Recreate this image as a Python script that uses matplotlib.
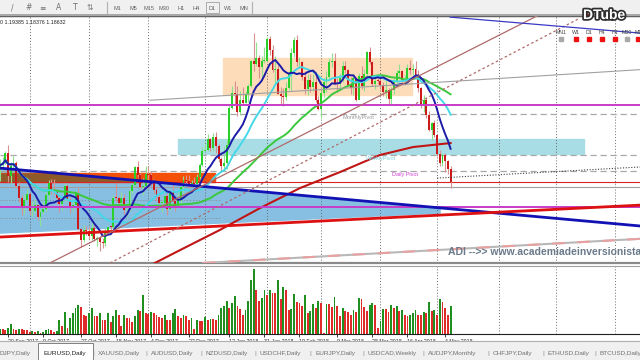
import matplotlib.pyplot as plt
import matplotlib.patheffects as pe
from matplotlib.lines import Line2D
from matplotlib.patches import Rectangle, Polygon
import numpy as np
import pandas as pd

plt.rcParams['font.family'] = ['Liberation Sans', 'DejaVu Sans']

# EURUSD daily candles, 15 Sep 2017 - 8 May 2018
dates = pd.bdate_range('2017-09-15', '2018-05-08')
first_open = 1.1920
closes = [1.1942, 1.1951, 1.1998, 1.1894, 1.1939, 1.1951, 1.1848, 1.1793, 1.1747, 1.1785,
          1.1813, 1.1733, 1.1734, 1.1761, 1.1706, 1.1731, 1.1743, 1.1808, 1.1861, 1.1825,
          1.1821, 1.1795, 1.1764, 1.1788, 1.1849, 1.1785, 1.1758, 1.1761, 1.1815, 1.1653,
          1.1605, 1.1648, 1.1645, 1.1620, 1.1656, 1.1607, 1.1611, 1.1595, 1.1592, 1.1643,
          1.1664, 1.1663, 1.1795, 1.1793, 1.1770, 1.1793, 1.1737, 1.1738, 1.1824, 1.1851,
          1.1933, 1.1899, 1.1844, 1.1846, 1.1903, 1.1895, 1.1863, 1.1827, 1.1796, 1.1772,
          1.1772, 1.1802, 1.1743, 1.1825, 1.1778, 1.1752, 1.1784, 1.1843, 1.1873, 1.1872,
          1.1856, 1.1863, 1.1858, 1.1889, 1.1944, 1.2005, 1.2010, 1.2059, 1.2017, 1.2067,
          1.2029, 1.1967, 1.1937, 1.1950, 1.2033, 1.2200, 1.2265, 1.2263, 1.2180, 1.2237,
          1.2222, 1.2260, 1.2298, 1.2409, 1.2396, 1.2426, 1.2383, 1.2411, 1.2413, 1.2512,
          1.2460, 1.2370, 1.2377, 1.2264, 1.2253, 1.2250, 1.2290, 1.2352, 1.2449, 1.2507,
          1.2406, 1.2406, 1.2337, 1.2285, 1.2327, 1.2295, 1.2316, 1.2235, 1.2193, 1.2266,
          1.2317, 1.2337, 1.2408, 1.2410, 1.2313, 1.2307, 1.2336, 1.2389, 1.2370, 1.2305,
          1.2289, 1.2336, 1.2237, 1.2344, 1.2300, 1.2351, 1.2450, 1.2405, 1.2307, 1.2323,
          1.2322, 1.2303, 1.2269, 1.2278, 1.2239, 1.2281, 1.2320, 1.2357, 1.2367, 1.2326,
          1.2330, 1.2380, 1.2372, 1.2376, 1.2344, 1.2288, 1.2211, 1.2234, 1.2166, 1.2101,
          1.2130, 1.2078, 1.1990, 1.1951, 1.1989, 1.1960, 1.1923, 1.18632]
highs = [1.1970, 1.1976, 1.2004, 1.2034, 1.1955, 1.1982, 1.1960, 1.1866, 1.1808, 1.1811,
         1.1832, 1.1814, 1.1779, 1.1790, 1.1768, 1.1742, 1.1781, 1.1822, 1.1876, 1.1880,
         1.1878, 1.1832, 1.1805, 1.1803, 1.1861, 1.1858, 1.1797, 1.1786, 1.1826, 1.1838,
         1.1660, 1.1670, 1.1668, 1.1669, 1.1688, 1.1679, 1.1620, 1.1620, 1.1613, 1.1659,
         1.1669, 1.1672, 1.1805, 1.1861, 1.1802, 1.1821, 1.1810, 1.1770, 1.1833, 1.1860,
         1.1937, 1.1960, 1.1908, 1.1884, 1.1939, 1.1939, 1.1915, 1.1880, 1.1845, 1.1810,
         1.1786, 1.1808, 1.1815, 1.1829, 1.1862, 1.1799, 1.1818, 1.1849, 1.1891, 1.1897,
         1.1898, 1.1875, 1.1886, 1.1901, 1.1953, 1.2023, 1.2036, 1.2081, 1.2065, 1.2088,
         1.2090, 1.2037, 1.1977, 1.2022, 1.2059, 1.2219, 1.2297, 1.2323, 1.2297, 1.2276,
         1.2296, 1.2274, 1.2308, 1.2415, 1.2537, 1.2495, 1.2436, 1.2432, 1.2474, 1.2521,
         1.2523, 1.2485, 1.2435, 1.2394, 1.2294, 1.2289, 1.2315, 1.2366, 1.2470, 1.2519,
         1.2530, 1.2431, 1.2412, 1.2366, 1.2352, 1.2353, 1.2354, 1.2346, 1.2251, 1.2274,
         1.2336, 1.2365, 1.2425, 1.2446, 1.2447, 1.2335, 1.2356, 1.2410, 1.2413, 1.2373,
         1.2337, 1.2352, 1.2340, 1.2356, 1.2388, 1.2376, 1.2455, 1.2476, 1.2411, 1.2338,
         1.2336, 1.2336, 1.2318, 1.2320, 1.2289, 1.2292, 1.2333, 1.2372, 1.2396, 1.2372,
         1.2348, 1.2396, 1.2414, 1.2398, 1.2413, 1.2370, 1.2292, 1.2256, 1.2245, 1.2187,
         1.2138, 1.2145, 1.2081, 1.2010, 1.1997, 1.1996, 1.1963, 1.19385]
lows = [1.1868, 1.1920, 1.1946, 1.1864, 1.1860, 1.1910, 1.1838, 1.1777, 1.1717, 1.1722,
        1.1774, 1.1716, 1.1711, 1.1724, 1.1692, 1.1669, 1.1722, 1.1735, 1.1790, 1.1812,
        1.1807, 1.1768, 1.1730, 1.1741, 1.1780, 1.1779, 1.1727, 1.1733, 1.1750, 1.1647,
        1.1573, 1.1596, 1.1627, 1.1606, 1.1603, 1.1600, 1.1575, 1.1554, 1.1566, 1.1576,
        1.1627, 1.1637, 1.1646, 1.1775, 1.1761, 1.1767, 1.1722, 1.1714, 1.1735, 1.1815,
        1.1848, 1.1890, 1.1832, 1.1808, 1.1838, 1.1837, 1.1847, 1.1815, 1.1780, 1.1765,
        1.1729, 1.1757, 1.1717, 1.1738, 1.1773, 1.1733, 1.1753, 1.1768, 1.1816, 1.1850,
        1.1838, 1.1848, 1.1846, 1.1851, 1.1881, 1.1939, 1.1999, 1.2004, 1.2004, 1.2007,
        1.1996, 1.1954, 1.1916, 1.1915, 1.1926, 1.2030, 1.2196, 1.2212, 1.2165, 1.2169,
        1.2213, 1.2221, 1.2228, 1.2293, 1.2366, 1.2388, 1.2335, 1.2337, 1.2400, 1.2410,
        1.2437, 1.2360, 1.2307, 1.2261, 1.2219, 1.2206, 1.2233, 1.2286, 1.2275, 1.2430,
        1.2390, 1.2384, 1.2326, 1.2260, 1.2259, 1.2271, 1.2277, 1.2228, 1.2191, 1.2155,
        1.2250, 1.2272, 1.2324, 1.2386, 1.2301, 1.2272, 1.2288, 1.2318, 1.2355, 1.2299,
        1.2260, 1.2258, 1.2230, 1.2240, 1.2285, 1.2274, 1.2333, 1.2397, 1.2300, 1.2285,
        1.2308, 1.2283, 1.2254, 1.2245, 1.2214, 1.2216, 1.2261, 1.2303, 1.2338, 1.2310,
        1.2302, 1.2310, 1.2353, 1.2350, 1.2334, 1.2270, 1.2201, 1.2182, 1.2155, 1.2096,
        1.2054, 1.2069, 1.1984, 1.1939, 1.1938, 1.1911, 1.1902, 1.18376]
# tick volume (thousands)
volumes = [5, 5, 4, 6, 10, 5, 4, 5, 5, 4, 4, 2, 3, 2, 3, 1, 2, 4, 5, 4, 2, 3,
           14, 8, 22, 6, 16, 21, 26, 29, 27, 19, 18, 21, 26, 18, 18, 21, 14, 14, 21,
           12, 18, 24, 19, 8, 19, 16, 16, 12, 18, 24, 23, 38, 21, 20, 22,
           21, 19, 17, 16, 19, 14, 14, 21, 25, 18, 16, 19, 18, 14, 16, 5, 14, 13, 13,
           17, 14, 15, 15, 14, 19, 26, 28, 33, 26, 31, 37, 28, 25, 19, 24, 33, 53, 64, 43,
           33, 35, 43, 38, 43, 40, 40, 53, 34, 46, 43, 24, 25, 39, 32, 31,
           28, 38, 21, 23, 30, 26, 33, 31, 1, 30, 30, 27, 36, 28, 18, 26, 23, 22, 19,
           24, 22, 35, 34, 27, 23, 29, 31, 29, 6, 13, 25, 25, 22, 29, 26, 28, 23, 24, 19,
           18, 19, 21, 24, 19, 19, 22, 21, 32, 23, 24, 19, 34, 32, 26, 19, 28]

date_labels = ['20 Sep 2017', '9 Oct 2017', '27 Oct 2017', '15 Nov 2017', '4 Dec 2017',
               '22 Dec 2017', '12 Jan 2018', '31 Jan 2018', '19 Feb 2018', '9 Mar 2018',
               '28 Mar 2018', '16 Apr 2018', '4 May 2018']
label_dates = ['2017-09-20', '2017-10-09', '2017-10-27', '2017-11-15', '2017-12-04',
               '2017-12-22', '2018-01-12', '2018-01-31', '2018-02-19', '2018-03-09',
               '2018-03-28', '2018-04-16', '2018-05-04']

# objects on the chart, in (bar index, price)
peach_box = (82.7, 152.7, 1.2257, 1.2424)
cyan_box = (66.0, 216.5, 1.1991, 1.2059)
orange_box = (0.0, 79.7, 1.1865, 1.1906)
blue_zone_x = [0, 163.1, 163.1, 0]
blue_zone_y = [1.1928, 1.1748, 1.1725, 1.1635]
blue_trend_x, blue_trend_y = [0, 237.2], [1.1928, 1.1667]
red_trend_x, red_trend_y = [0, 237.2], [1.1617, 1.1761]
grey_trend_x, grey_trend_y = [55.6, 237.2], [1.2234, 1.2372]
brown_trend_x, brown_trend_y = [18.5, 199.0], [1.1500, 1.2614]
brown_dot_x, brown_dot_y = [40.8, 215.0], [1.1500, 1.2605]
pink_trend_x, pink_trend_y = [75.2, 237.2], [1.1500, 1.1609]
black_dot_x, black_dot_y = [162.0, 237.2], [1.1883, 1.1933]
top_blue_x, top_blue_y = [166.8, 237.2], [1.2609, 1.2537]
magenta_levels = [1.2212, 1.1752]
pivot_names = ['MonthlyPivot', 'WeeklyPivot', 'Daily Pivot']
pivot_levels = [1.2172, 1.1987, 1.1915]
pivot_label_x = [127.1, 135.7, 145.3]
pivot_colors = ['#9a9a9a', '#7fd4e0', '#d040d0']
support_red = 1.1865
support_grey = 1.1843
short_levels = [1.1784, 1.1703]
ma200_x = [50.0, 57.4, 66.7, 81.5, 96.4, 111.2, 126.0, 140.8, 153.1, 167.0]
ma200_y = [1.1454, 1.1500, 1.1558, 1.1649, 1.1748, 1.1838, 1.1910, 1.1987, 1.2023, 1.2041]

tabs = ['DJPY,Daily', 'EURUSD,Daily', 'XAUUSD,Daily', 'AUDUSD,Daily', 'NZDUSD,Daily',
        'USDCHF,Daily', 'EURJPY,Daily', 'USDCAD,Weekly', 'AUDJPY,Monthly', 'CHFJPY,Daily',
        'ETHUSD,Daily', 'BTCUSD,Daily']
tab_px = [0, 44, 98, 151, 206, 260, 315, 368, 428, 493, 548, 600]
tf_buttons = ['M1', 'M5', 'M15', 'M30', 'H1', 'H4', 'D1', 'W1', 'MN']
tf_px = [117, 133, 149, 164, 181, 196, 212, 228, 244]


def fx(px):
    return px / 640


def fy(py):
    return 1 - py / 360


fig = plt.figure(figsize=(6.4, 3.6), dpi=100, facecolor='white')
ax = fig.add_axes([0, fy(263), 1, (263 - 16) / 360])
vax = fig.add_axes([0, fy(334), 1, (334 - 266) / 360], sharex=ax)

x = np.arange(len(closes))
c = np.array(closes)
o = np.array([first_open] + closes[:-1])
h = np.array(highs)
l = np.array(lows)
up = c >= o

ax.set_xlim(0, 237.2)
ax.set_ylim(1.1500, 1.2614)

# month grid
ext = pd.bdate_range('2017-09-15', '2018-08-31')
month_starts = [i for i in range(1, len(ext)) if ext[i].month != ext[i - 1].month]
for m in month_starts:
    ax.axvline(m, color='#6a6a6a', ls=(0, (1, 2)), lw=0.7, zorder=1.5)
    vax.axvline(m, color='#6a6a6a', ls=(0, (1, 2)), lw=0.7, zorder=0.5)

# rectangles / zones
ax.add_patch(Rectangle((peach_box[0], peach_box[2]), peach_box[1] - peach_box[0],
                       peach_box[3] - peach_box[2], color='#fddcb9', zorder=1))
ax.add_patch(Rectangle((cyan_box[0], cyan_box[2]), cyan_box[1] - cyan_box[0],
                       cyan_box[3] - cyan_box[2], color='#a9dde6', zorder=1))
ax.add_patch(Polygon(list(zip(blue_zone_x, blue_zone_y)), color='#86bfe2', zorder=1.1))
ax.add_patch(Rectangle((orange_box[0], orange_box[2]), orange_box[1] - orange_box[0],
                       orange_box[3] - orange_box[2], color='#f4500a', zorder=1.2))
xs = np.linspace(orange_box[0], orange_box[1], 200)
trend_at = np.interp(xs, blue_trend_x, blue_trend_y)
top = np.clip(trend_at, orange_box[2], orange_box[3])
ax.fill_between(xs, orange_box[2], top, color='#8e5a2a', lw=0, zorder=1.3)

for lv in short_levels:
    ax.plot([0, 82], [lv, lv], color='#8a8a8a', ls=(0, (1, 2)), lw=0.7, zorder=1.5)

# candles
ax.vlines(x[up], l[up], h[up], color='#8fe08f', lw=0.8, zorder=3)
ax.vlines(x[~up], l[~up], h[~up], color='#d89090', lw=0.8, zorder=3)
body = np.maximum(np.abs(c - o), 0.00025)
ax.bar(x[up], body[up], bottom=np.minimum(o, c)[up], width=0.72, color='#2ad02a', zorder=3.5)
ax.bar(x[~up], body[~up], bottom=np.minimum(o, c)[~up], width=0.72, color='#cc1a1a', zorder=3.5)

# moving averages
s = pd.Series(closes)
ax.plot(x, s.rolling(50, min_periods=1).mean(), color='#3cc83c', lw=1.4, zorder=4)
ax.plot(x, s.rolling(20, min_periods=1).mean(), color='#45d8e8', lw=1.4, zorder=4.1)
ax.plot(x, s.rolling(10, min_periods=1).mean(), color='#1c1ca8', lw=1.4, zorder=4.2)
ax.plot(ma200_x, ma200_y, color='#c01515', lw=1.5, zorder=4)

# horizontal levels
for lv in magenta_levels:
    ax.axhline(lv, color='#c83cc8', lw=1.4, zorder=4.5)
for lv in pivot_levels:
    ax.axhline(lv, color='#a8a8a8', ls=(0, (5, 3)), lw=0.9, zorder=2)
ax.axhline(support_red, color='#dd2222', lw=0.8, zorder=2.5)
ax.axhline(support_grey, color='#a0a0a0', lw=0.8, zorder=2.5)

# trend lines
ax.plot(blue_trend_x, blue_trend_y, color='#1212b4', lw=2, zorder=5)
ax.plot(red_trend_x, red_trend_y, color='#dd1111', lw=2, zorder=5)
ax.plot(grey_trend_x, grey_trend_y, color='#a0a0a0', lw=0.8, zorder=5)
ax.plot(brown_trend_x, brown_trend_y, color='#b06a6a', lw=0.9, zorder=5)
ax.plot(brown_dot_x, brown_dot_y, color='#b06a6a', ls=(0, (2, 2)), lw=0.9, zorder=5)
ax.plot(pink_trend_x, pink_trend_y, color='#b8b8b8', lw=1.5, zorder=5)
ax.plot(pink_trend_x, pink_trend_y, color='#e8a0a0', ls=(0, (6, 6)), lw=1.5, zorder=5.1)
ax.plot(black_dot_x, black_dot_y, color='#404040', ls=(0, (1, 1.5)), lw=0.8, zorder=5)
ax.plot(top_blue_x, top_blue_y, color='#3a3ac4', lw=0.9, zorder=5)

for name, lv, px_, col in zip(pivot_names, pivot_levels, pivot_label_x, pivot_colors):
    ax.text(px_, lv - 0.0004, name, color=col, fontsize=4, va='top', ha='left', zorder=6)
ax.text(166.0, 1.1549, 'ADI -->> www.academiadeinversionista.com', color='#6a7a8a',
        fontsize=7.5, fontweight='bold', va='center', ha='left', zorder=6)

ax.tick_params(left=False, bottom=False, labelleft=False, labelbottom=False)
for side in ['left', 'right']:
    ax.spines[side].set_visible(False)
ax.spines['top'].set_color('#404040')
ax.spines['top'].set_linewidth(1.0)
ax.spines['bottom'].set_color('#8a8a8a')
ax.spines['bottom'].set_linewidth(1.6)

# volumes
vol = np.array(volumes)
vol_col = ['#1f8f1f'] + ['#1f8f1f' if vol[i] > vol[i - 1] else '#e02b2b' for i in range(1, len(vol))]
vax.bar(x, vol, width=0.68, color=vol_col, zorder=2)
vax.set_ylim(0, 67)
for side in ['left', 'right']:
    vax.spines[side].set_visible(False)
vax.spines['top'].set_color('#a0a0a0')
vax.spines['bottom'].set_color('#202020')
vax.spines['bottom'].set_linewidth(0.8)
vax.tick_params(left=False, labelleft=False)
label_pos = [dates.get_loc(pd.Timestamp(d)) for d in label_dates]
vax.set_xticks(label_pos)
vax.set_xticklabels(date_labels, fontsize=3.8, ha='left')
vax.tick_params(axis='x', direction='out', length=2.5, width=0.6, pad=1, colors='#202020')

# toolbar
fig.patches.append(Rectangle((0, fy(15)), 1, 15 / 360, transform=fig.transFigure,
                             color='#f0f0f0', zorder=0))
fig.add_artist(Line2D([0, 1], [fy(15), fy(15)], color='#9a9a9a', lw=1.2))
for sym, px_ in zip(['/', '#', '\u2261', 'A', 'T', '\u21c5'], [12, 29, 42, 59, 75, 90]):
    fig.text(fx(px_), fy(8), sym, fontsize=5.5, color='#707070', ha='center', va='center',
             family='DejaVu Sans')
fig.add_artist(Line2D([fx(107), fx(107)], [fy(2), fy(13)], color='#b0b0b0', lw=0.8))
for name, px_ in zip(tf_buttons, tf_px):
    fig.text(fx(px_), fy(8), name, fontsize=4, color='#606060', ha='center', va='center')
fig.patches.append(Rectangle((fx(206), fy(13)), fx(13), 11 / 360, transform=fig.transFigure,
                             fill=False, ec='#a0a0a0', lw=0.6))
fig.add_artist(Line2D([fx(252), fx(252)], [fy(2), fy(13)], color='#b0b0b0', lw=0.8))

fig.text(0, fy(22), '0 1.19385 1.18376 1.18632', fontsize=3.8, color='#202020',
         ha='left', va='center')

# DTube watermark
fig.text(fx(583), fy(15), 'DTube', fontsize=10, fontweight='bold', color='white',
         ha='left', va='center',
         path_effects=[pe.withStroke(linewidth=2.5, foreground='#303030')])
fig.add_artist(Line2D([fx(587)], [fy(15)], marker='>', color='#e01010', markersize=3.5,
                      lw=0))

# timeframe signal panel
sig_names = ['MN1', 'W1', 'D1', 'H4', 'H1', 'M30', 'M1']
sig_px = [561, 576, 589, 602, 615, 627, 638]
sig_cols = ['#a8a8a8', '#ee1111', '#ee1111', '#ee1111', '#ee1111', '#a8a8a8', '#ee1111']
for name, px_, col in zip(sig_names, sig_px, sig_cols):
    fig.text(fx(px_), fy(32), name, fontsize=3.8, color='#404040', ha='center', va='center')
    fig.add_artist(Line2D([fx(px_)], [fy(39)], marker='s', color=col, markersize=2.8, lw=0))

# symbol tabs
fig.patches.append(Rectangle((0, 0), 1, fy(341), transform=fig.transFigure,
                             color='#f0f0f0', zorder=0))
fig.add_artist(Line2D([0, 1], [fy(341), fy(341)], color='#b0b0b0', lw=0.8))
fig.patches.append(Rectangle((fx(38), 0), fx(55), fy(343), transform=fig.transFigure,
                             fc='white', ec='#808080', lw=0.7, zorder=1))
for i, (name, px_) in enumerate(zip(tabs, tab_px)):
    fig.text(fx(px_), fy(353), name, fontsize=4.6, ha='left', va='center',
             color='#202020' if name == 'EURUSD,Daily' else '#707070', zorder=2)
    if i > 1:
        fig.text(fx(px_ - 5), fy(353), '|', fontsize=4.6, ha='center', va='center',
                 color='#909090')

plt.savefig('out.png', dpi=100)
